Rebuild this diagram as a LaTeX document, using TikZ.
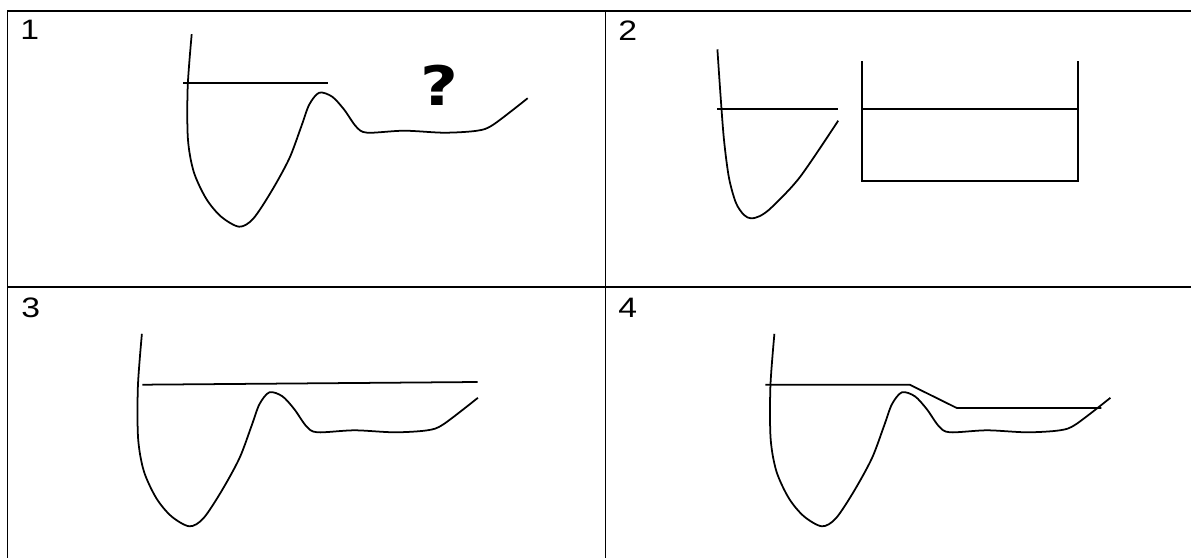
\documentclass[tikz,border=0pt]{standalone}
\usepackage{fontspec}
\setmainfont{Liberation Sans}
\newfontfamily\askfont{DejaVu Sans}
\usepackage{tikz}
\usetikzlibrary{positioning}

\newcommand{\wide}[1]{\scalebox{1.2}[1]{#1}}

\tikzset{
  gridline/.style={line width=0.8pt},
  curve/.style={line width=1pt, line join=round},
  level/.style={line width=1pt},
  cellnum/.style={anchor=north west, inner sep=0pt, font=\fontsize{16}{16}\selectfont},
  % the same well + barrier curve, placed by its minimum
  well/.pic={
    \draw[curve] plot[smooth] coordinates {(-47.5,-192.5) (-51.5,-140) (-51.3,-88) (-45.5,-55)
      (-33,-28) (-18,-10) (0,0) (14,-8) (32,-35) (50,-68) (62,-100) (70,-122) (80,-134)
      (93,-130) (105,-117) (117,-100) (128,-94) (165,-96) (205,-94) (238,-96) (254,-102) (288.5,-128.5)};
  }
}

\begin{document}
\begin{tikzpicture}[x=0.02cm, y=-0.02cm]
  \useasboundingbox (0,0) rectangle (1191,558);
  % table
  \draw[gridline] (7.3,558) -- (7.3,11) -- (1191,11);
  \draw[gridline] (605.3,11) -- (605.3,558);
  \draw[gridline] (7.3,287) -- (1191,287);
  \node[cellnum] (n1) at (20,20) {\wide{1}};
  \node[cellnum] (n2) at (618,21) {\wide{2}};
  \node[cellnum] (n3) at (21,298) {\wide{3}};
  \node[cellnum] (n4) at (618,298) {\wide{4}};

  % 1
  \pic (w1) at (239.2,226.7) {well};
  \draw[level] (183,82.7) -- (328,82.7);
  \node[font=\askfont\fontsize{31}{31}\selectfont\bfseries] (ask) at (439,85) {\wide{?}};

  % 2
  \draw[curve] plot[smooth] coordinates {(717.4,49.3) (720.5,95) (724,140) (729,178) (736,203)
    (744,215) (751,218.3) (760,216) (772,207) (800,177) (838.2,120.7)};
  \draw[level] (717.4,109) -- (838.2,109);
  \draw[level] (861.8,61) -- (861.8,181) -- (1077.7,181) -- (1077.7,61);
  \draw[level] (861.8,109) -- (1077.7,109);

  % 3
  \pic (w3) at (189.4,526.3) {well};
  \draw[level] (142.4,384.7) -- (477.6,382);

  % 4
  \pic (w4) at (821.9,526.3) {well};
  \draw[level] (765.3,384.7) -- (909.7,384.7) -- (956.8,408) -- (1101.3,408);
\end{tikzpicture}
\end{document}
